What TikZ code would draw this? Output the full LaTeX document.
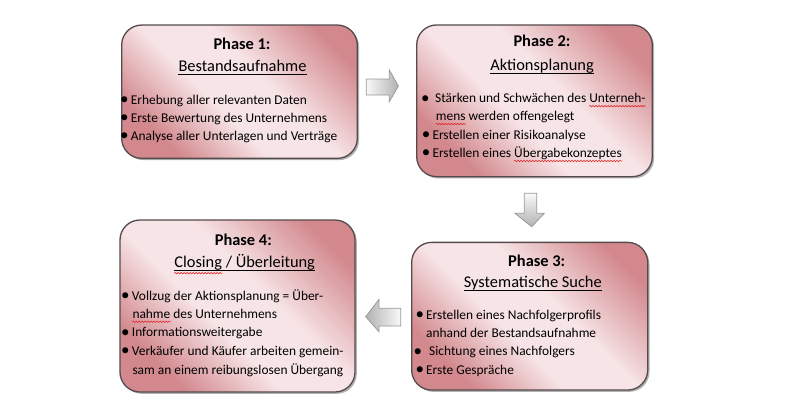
\documentclass[tikz,border=0pt]{standalone}
\usepackage{fontspec}
\setmainfont{Carlito}
\usetikzlibrary{shadows,decorations.pathmorphing}
\definecolor{boxdk}{RGB}{210,136,141}
\definecolor{boxlt}{RGB}{247,228,230}
\definecolor{boxedge}{RGB}{85,75,77}
\definecolor{wavered}{RGB}{225,40,40}
\pgfdeclarehorizontalshading{phaseshade}{100bp}{color(0bp)=(boxdk); color(26bp)=(boxdk); color(43bp)=(boxlt); color(57bp)=(boxlt); color(77bp)=(boxdk); color(100bp)=(boxdk)}
\newcommand\bulsym{\raisebox{-0.4bp}{\fontsize{17bp}{17bp}\selectfont\textbullet}}
\newcommand\bul{\llap{\bulsym\hspace{2.2bp}}}
\begin{document}
\begin{tikzpicture}[x=1bp,y=-1bp,
  phasebox/.style={draw=boxedge, line width=1.3bp, rounded corners=20bp, shading=phaseshade, shading angle=45, inner sep=0,
    drop shadow={shadow xshift=1.8bp, shadow yshift=-1.8bp, opacity=0.3, fill=black}},
  ttl/.style={anchor=base, inner sep=0, font=\fontsize{16.4bp}{20bp}\selectfont},
  itm/.style={anchor=base west, inner sep=0, font=\fontsize{13.4bp}{16bp}\selectfont},
  uln/.style={draw=black, line width=0.9bp},
  wave/.style={draw=wavered, line width=0.6bp, decorate, decoration={snake, amplitude=0.7bp, segment length=3bp}},
  blockarrow/.style={draw=gray!80, line width=0.8bp}]
\useasboundingbox (0,0) rectangle (792,415);
\fill[white] (0,0) rectangle (792,415);

% boxes
\node[phasebox, minimum width=235.6bp, minimum height=133.3bp] (b1) at (239.5,91.7) {};
\node[phasebox, minimum width=235.6bp, minimum height=151.7bp] (b2) at (534.5,100.8) {};
\node[phasebox, minimum width=236bp, minimum height=147.7bp] (b3) at (529.7,316.2) {};
\node[phasebox, minimum width=235bp, minimum height=172bp] (b4) at (237.5,306) {};

% box 1
\node[ttl] (t1a) at (242,49.3) {\textbf{Phase 1:}};
\node[ttl] (t1b) at (242.5,71.7) {Bestandsaufnahme};
\draw[uln] ([yshift=-3bp]t1b.base west) -- ([yshift=-3bp]t1b.base east);
\node[itm] (l1a) at (130.7,104) {\bul Erhebung aller relevanten Daten};
\node[itm] (l1b) at (130.7,122) {\bul Erste Bewertung des Unternehmens};
\node[itm] (l1c) at (130.7,140) {\bul Analyse aller Unterlagen und Verträge};

% box 2
\node[ttl] (t2a) at (542,46) {\textbf{Phase 2:}};
\node[ttl] (t2b) at (542,70) {Aktionsplanung};
\draw[uln] ([yshift=-3bp]t2b.base west) -- ([yshift=-3bp]t2b.base east);
\node[itm] (l2a) at (435,102.7) {\llap{\bulsym\hspace{5.5bp}}Stärken und Schwächen des Unterneh-};
\node[itm] (l2b) at (435.7,120.5) {mens werden offengelegt};
\node[itm] (l2c) at (432.3,139) {\bul Erstellen einer Risikoanalyse};
\node[itm] (l2d) at (432.3,157.5) {\bul Erstellen eines Übergabekonzeptes};
\node[itm, anchor=base east] (w2a) at (l2a.base east) {\phantom{Unterneh-}};
\node[itm] (w2b) at (l2b.base west) {\phantom{mens}};
\node[itm, anchor=base east] (w2d) at (l2d.base east) {\phantom{Übergabekonzeptes}};
\draw[wave] ([yshift=-3.5bp]w2a.base west) -- ([yshift=-3.5bp]w2a.base east);
\draw[wave] ([yshift=-3.5bp]w2b.base west) -- ([yshift=-3.5bp]w2b.base east);
\draw[wave] ([yshift=-3.5bp]w2d.base west) -- ([yshift=-3.5bp]w2d.base east);

% box 3
\node[ttl] (t3a) at (536.7,266) {\textbf{Phase 3:}};
\node[ttl] (t3b) at (532.8,287.3) {Systematische Suche};
\draw[uln] ([yshift=-3bp]t3b.base west) -- ([yshift=-3bp]t3b.base east);
\node[itm] (l3a) at (426,319.3) {\bul Erstellen eines Nachfolgerprofils};
\node[itm] (l3b) at (426,337.5) {anhand der Bestandsaufnahme};
\node[itm] (l3c) at (429,355.7) {\llap{\bulsym\hspace{7.2bp}}Sichtung eines Nachfolgers};
\node[itm] (l3d) at (426,374) {\bul Erste Gespräche};

% box 4
\node[ttl] (t4a) at (243.3,245.7) {\textbf{Phase 4:}};
\node[ttl] (t4b) at (244.7,267.7) {Closing / Überleitung};
\draw[uln] ([yshift=-3bp]t4b.base west) -- ([yshift=-3bp]t4b.base east);
\node[ttl, anchor=base west] (w4b) at (t4b.base west) {\phantom{Closing}};
\draw[wave] ([yshift=-5.5bp]w4b.base west) -- ([yshift=-5.5bp]w4b.base east);
\node[itm] (l4a) at (131.7,300) {\bul Vollzug der Aktionsplanung = Über-};
\node[itm] (l4b) at (132.3,318.3) {nahme des Unternehmens};
\node[itm] (w4n) at (l4b.base west) {\phantom{nahme}};
\draw[wave] ([yshift=-3.5bp]w4n.base west) -- ([yshift=-3.5bp]w4n.base east);
\node[itm] (l4c) at (131.7,336.7) {\bul Informationsweitergabe};
\node[itm] (l4d) at (131.7,355.5) {\bul Verkäufer und Käufer arbeiten gemein-};
\node[itm] (l4e) at (132.3,374.2) {sam an einem reibungslosen Übergang};

% block arrows
\coordinate (a1tip) at (398.3,86);
\coordinate (a2tip) at (531.7,226.7);
\coordinate (a3tip) at (365.7,316.7);
\path[blockarrow, left color=gray!5, right color=gray!60]
  (366.3,79) -- (389.3,79) -- (389.3,70) -- (a1tip) -- (389.3,101.7) -- (389.3,95) -- (366.3,95) -- cycle;
\path[blockarrow, top color=gray!5, bottom color=gray!60]
  (524.3,193.3) -- (536.7,193.3) -- (536.7,213.3) -- (544.3,213.3) -- (a2tip) -- (515,213.3) -- (524.3,213.3) -- cycle;
\path[blockarrow, right color=gray!5, left color=gray!60]
  (400.7,308.3) -- (379,308.3) -- (379,299.3) -- (a3tip) -- (379,331.7) -- (379,326) -- (400.7,326) -- cycle;
\end{tikzpicture}
\end{document}
